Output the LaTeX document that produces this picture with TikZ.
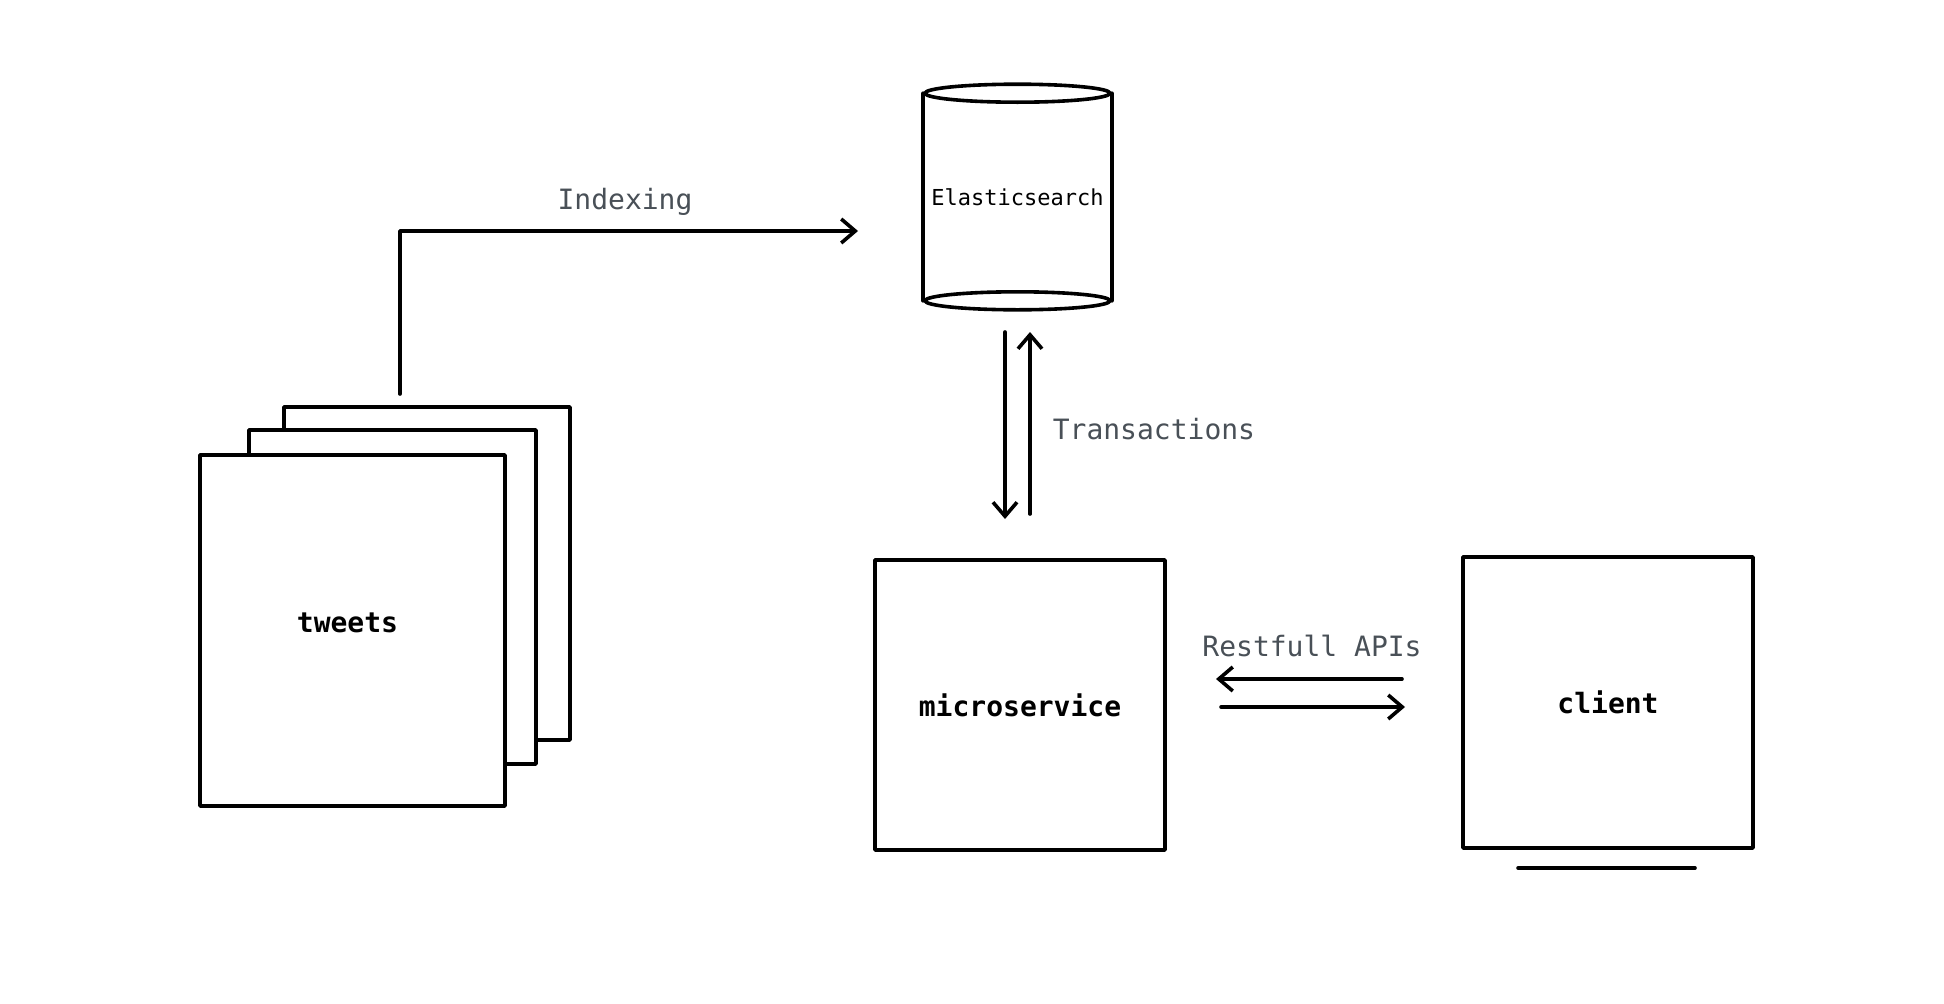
\documentclass[tikz,border=0pt]{standalone}
\usepackage{fontspec}
\setmonofont{DejaVu Sans Mono}
\usetikzlibrary{arrows.meta}
\definecolor{lbl}{HTML}{495057}
\begin{document}
\begin{tikzpicture}[x=1pt,y=-1pt,
  line width=3.6pt, line join=round, line cap=round,
  box/.style={draw=black, fill=white, line width=3.6pt, inner sep=0pt},
  ntext/.style={font=\ttfamily\bfseries\fontsize{28}{34}\selectfont},
  elabel/.style={font=\ttfamily\fontsize{28}{34}\selectfont, text=lbl, inner sep=0pt},
  arr/.style={-{Straight Barb[length=14pt,width=24pt,line width=3.6pt]}},
]
\useasboundingbox (0,0) rectangle (1944,1004);
\fill[white] (0,0) rectangle (1944,1004);

% tweets stack
\node[box, minimum width=286pt, minimum height=333pt] (page3) at (427,573.5) {};
\node[box, minimum width=287pt, minimum height=334pt] (page2) at (392.5,597) {};
\node[box, minimum width=305pt, minimum height=351pt] (tweets) at (352.5,630.5) {};
\node[ntext] (tweetslbl) at ([xshift=-5pt,yshift=8pt]tweets.center) {tweets};

% Elasticsearch cylinder
\node[font=\ttfamily\fontsize{22}{26}\selectfont, minimum width=185pt, minimum height=204pt, inner sep=0pt] (es) at (1017.5,197) {Elasticsearch};
\draw (es.north west) -- (es.south west);
\draw (es.north east) -- (es.south east);
\draw (es.north) ellipse [x radius=92.5pt, y radius=9pt];
\draw (es.south) ellipse [x radius=92.5pt, y radius=9pt];

% microservice and client
\node[box, ntext, minimum width=290pt, minimum height=290pt] (ms) at (1020,705) {microservice};
\node[box, ntext, minimum width=290pt, minimum height=291pt] (client) at (1608,702.5) {client};
\draw (1518,868) -- (1695,868);

% Indexing
\coordinate (idxS) at (400,394);
\coordinate (idxE) at (858,231);
\draw[arr] (idxS) |- (idxE);
\node[elabel] (lidx) at (625,202) {Indexing};

% Transactions
\coordinate (tdS) at (1005,332);
\coordinate (tdE) at (1005,519);
\coordinate (tuS) at (1030,514);
\coordinate (tuE) at (1030,332);
\draw[arr] (tdS) -- (tdE);
\draw[arr] (tuS) -- (tuE);
\node[elabel, anchor=west] (ltr) at (1051,429) {Transactions};

% Restfull APIs
\coordinate (rlS) at (1402,679);
\coordinate (rlE) at (1216,679);
\coordinate (rrS) at (1221,707);
\coordinate (rrE) at (1405,707);
\draw[arr] (rlS) -- (rlE);
\draw[arr] (rrS) -- (rrE);
\node[elabel] (lrest) at (1312,646) {Restfull APIs};
\end{tikzpicture}
\end{document}
